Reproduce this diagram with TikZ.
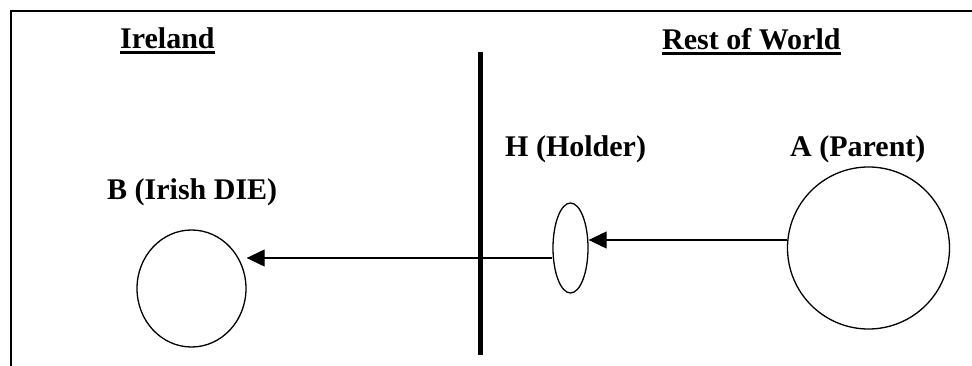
\documentclass[tikz,border=0pt]{standalone}
\usepackage{fontspec}
\setmainfont{Liberation Serif}
\usetikzlibrary{arrows.meta,shapes.geometric}

\begin{document}
\begin{tikzpicture}[x=1pt,y=-1pt,
  lbl/.style={anchor=base west,inner sep=0pt,font=\fontsize{30}{36}\selectfont\bfseries},
  party/.style={draw,ellipse,line width=1.3pt,inner sep=0pt},
  flow/.style={line width=1.2pt,-{Triangle[length=18pt,width=17pt]}}]
  \useasboundingbox (0,0) rectangle (972,366);
  \draw[line width=1.5pt] (11,366)--(11,11)--(972,11);
  % headings
  \node[lbl] (ie) at (120,49) {Ireland};
  \node[lbl] (row) at (662,50) {Rest of World};
  \draw[line width=2.5pt] ([yshift=-3.5pt]ie.base west)--([yshift=-3.5pt]ie.base east);
  \draw[line width=2.5pt] ([yshift=-3.5pt]row.base west)--([yshift=-3.5pt]row.base east);
  % border between the two sides
  \draw[line width=5pt] (480.5,52)--(480.5,355);
  % entities
  \node[party,minimum width=109pt,minimum height=117pt] (B) at (191.5,288.5) {};
  \node[party,minimum width=35pt,minimum height=90pt] (H) at (570.5,248) {};
  \node[party,circle,minimum size=162pt] (A) at (868.5,248) {};
  \node[lbl] (Bl) at (107,200) {B (Irish DIE)};
  \node[lbl] (Hl) at (505,157) {H (Holder)};
  \node[lbl] (Al) at (790,157) {A (Parent)};
  % flows
  \draw[flow] ([yshift=8pt]A.west) -- ([yshift=8pt]H.east);
  \coordinate (hb) at ([yshift=-10pt]H.west);
  \draw[flow] (hb) -- (hb -| B.east);
\end{tikzpicture}
\end{document}
